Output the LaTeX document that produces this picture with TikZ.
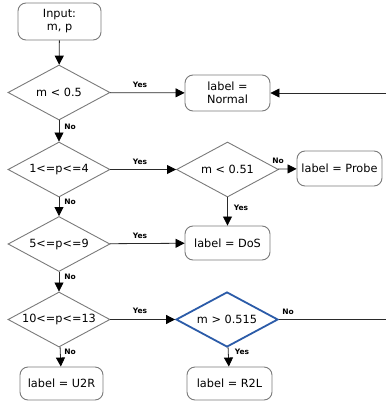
\documentclass[tikz,border=0pt]{standalone}
\usepackage{fontspec}
\setmainfont{DejaVu Sans}
\usetikzlibrary{shapes.geometric,arrows.meta}
\definecolor{shapegray}{HTML}{7A7A7A}
\definecolor{linegray}{HTML}{2A2A2A}
\definecolor{hiblue}{HTML}{2B5BA8}
\tikzset{
  every node/.style={font=\fontsize{11.3}{13}\selectfont},
  boxnode/.style={draw=shapegray, line width=0.9pt, rounded corners=8pt, minimum width=85pt, minimum height=35pt, inner sep=1pt, align=center, fill=white},
  decision/.style={draw=shapegray, line width=0.9pt, diamond, aspect=1.85, inner sep=0pt, minimum width=102pt, minimum height=55pt, fill=white},
  hidecision/.style={decision, draw=hiblue, line width=1.8pt},
  conn/.style={draw=linegray, line width=0.8pt, -{Triangle[length=9pt,width=9pt,color=black]}},
  plainconn/.style={draw=linegray, line width=0.8pt},
  lbl/.style={font=\fontsize{7.5}{9}\selectfont\bfseries, inner sep=0pt}
}
\begin{document}
\begin{tikzpicture}[x=1pt,y=-1pt]
\useasboundingbox (0,0) rectangle (386,402);
\node[boxnode, minimum width=83pt, minimum height=37pt] (in) at (59.5,21.5) {Input:\\m, p};
\node[decision] (d1) at (59,92.5) {m < 0.5};
\node[boxnode, minimum height=36pt] (normal) at (227.5,93) {label =\\Normal};
\node[decision] (d2) at (59,169.5) {1<=p<=4};
\node[decision] (d5) at (227.5,169.5) {m < 0.51};
\node[boxnode] (probe) at (339.5,168.5) {label = Probe};
\node[decision] (d3) at (59,244) {5<=p<=9};
\node[boxnode, minimum height=34pt] (dos) at (227.5,243) {label = DoS};
\node[decision] (d4) at (59,319.5) {10<=p<=13};
\node[hidecision] (d6) at (227,319.5) {m > 0.515};
\node[boxnode, minimum width=83pt, minimum height=33pt] (u2r) at (61.5,383.5) {label = U2R};
\node[boxnode, minimum height=33pt] (r2l) at (229.5,383.5) {label = R2L};
\coordinate (eastA) at (386,93);
\coordinate (eastB) at (386,319.5);

\draw[conn] (in) -- (d1);
\draw[conn] (d1) -- (normal);
\draw[conn] (d1) -- (d2);
\draw[conn] (d2) -- (d5);
\draw[conn] (d5) -- (probe);
\draw[conn] (d5) -- (dos);
\draw[conn] (d2) -- (d3);
\draw[conn] (d3) -- (dos);
\draw[conn] (d3) -- (d4);
\draw[conn] (d4) -- (d6);
\draw[conn] (d4) -- (u2r);
\draw[conn] (d6) -- (r2l);
\draw[plainconn] (d6) -- (eastB);
\draw[conn] (eastA) -- (normal);

\node[lbl] (y1) at (140,85) {Yes};
\node[lbl] (n1) at (70,126.5) {No};
\node[lbl] (y2) at (140,161.5) {Yes};
\node[lbl] (n2) at (70,202) {No};
\node[lbl] (n5) at (278,161) {No};
\node[lbl] (y5) at (241,208) {Yes};
\node[lbl] (y3) at (140,236) {Yes};
\node[lbl] (n3) at (70,277) {No};
\node[lbl] (y4) at (140,311) {Yes};
\node[lbl] (n4) at (70,351.5) {No};
\node[lbl] (n6) at (288,312) {No};
\node[lbl] (y6) at (242,352) {Yes};
\end{tikzpicture}
\end{document}
